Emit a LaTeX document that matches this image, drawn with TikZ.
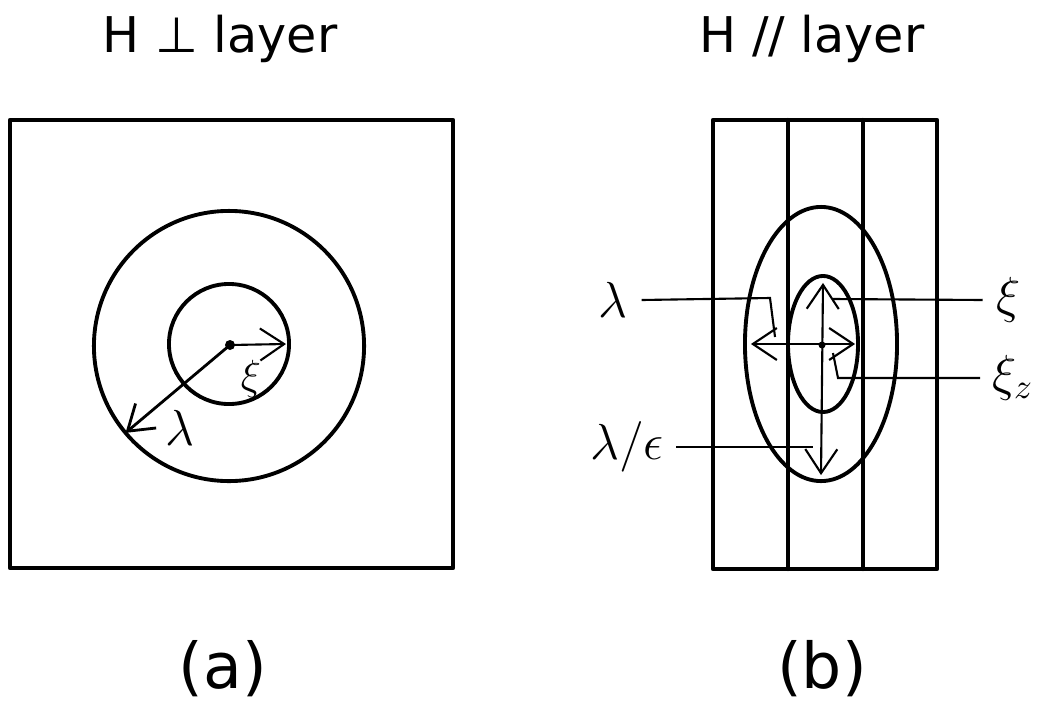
\documentclass[tikz,border=0pt]{standalone}
\usepackage{amsmath}
\usepackage{fontspec}
\setmainfont{DejaVu Sans}
\usetikzlibrary{arrows.meta,shapes.geometric}

\begin{document}
\begin{tikzpicture}[x=0.01cm,y=-0.01cm,>={Straight Barb[length=2.4mm,width=3.2mm]},
  frame/.style={line width=1.2pt,line join=round,line cap=round},
  ring/.style={draw,line width=1.1pt,inner sep=0pt,outer sep=0pt},
  ptr/.style={line width=0.6pt},
  lbl/.style={inner sep=1pt,font=\fontsize{14}{16}\selectfont},
  head/.style={anchor=base,inner sep=0pt,font=\fontsize{14}{16}\selectfont},
  tag/.style={anchor=base,inner sep=0pt,font=\fontsize{18}{22}\selectfont}]
\useasboundingbox (0,0) rectangle (1037,703);
% (a) field perpendicular to the layers
\node[head] (headA) at (220,52) {H ⊥ layer};
\draw[frame] (10,120) rectangle (453,568);
\node[ring,circle,minimum size=2.7cm] (outerA) at (229,346) {};
\node[ring,circle,minimum size=1.2cm] (innerA) at (229,344) {};
\coordinate (cA) at (230,345);
\fill (cA) circle[radius=0.05cm];
\draw[ptr,->] (cA) -- ([xshift=-0.03cm]innerA.east);
\draw[ptr,->,line width=0.8pt] (cA) -- (outerA.220);
\node[lbl,font=\fontsize{13}{15}\selectfont] (xiA) at (251,379) {$\xi$};
\node[lbl] (lamA) at (180,428) {$\lambda$};
\node[tag] (tagA) at (223,688) {(a)};
% (b) field parallel to the layers
\node[head] (headB) at (812,52) {H // layer};
\draw[frame] (713,120) rectangle (937,569);
\foreach \x in {788,863}
  \draw[frame] (\x,120) -- (\x,569);
\node[ring,ellipse,minimum width=1.52cm,minimum height=2.74cm] (outerB) at (821,344) {};
\node[ring,ellipse,minimum width=0.70cm,minimum height=1.36cm] (innerB) at (823,344) {};
\coordinate (cB) at (822,345);
\fill (cB) circle[radius=0.035cm];
\draw[ptr,<->] ([xshift=0.06cm]outerB.west) -- ([xshift=-0.03cm]innerB.east);
\draw[ptr,<->] ([yshift=-0.07cm]innerB.north) -- ([yshift=0.06cm]outerB.south);
% leaders
\node[lbl] (lamB) at (613,300) {$\lambda$};
\coordinate (lamK) at (770,298);
\coordinate (lamT) at (775,337);
\draw[ptr] ([xshift=0.1cm]lamB.east) -- (lamK) -- (lamT);
\node[lbl] (lamEpsB) at (627,447) {$\lambda/\epsilon$};
\coordinate (lamEpsT) at (813,447);
\draw[ptr] ([xshift=0.08cm]lamEpsB.east) -- (lamEpsT);
\node[lbl] (xiB) at (1009,300) {$\xi$};
\coordinate (xiT) at (833,299);
\draw[ptr] (xiT) -- ([xshift=-0.1cm]xiB.west);
\node[lbl] (xizB) at (1013,378) {$\xi_z$};
\coordinate (xizT) at (833,353);
\coordinate (xizK) at (838,378);
\draw[ptr] (xizT) -- (xizK) -- ([xshift=-0.08cm]xizB.west);
\node[tag] (tagB) at (822,688) {(b)};
\end{tikzpicture}
\end{document}
